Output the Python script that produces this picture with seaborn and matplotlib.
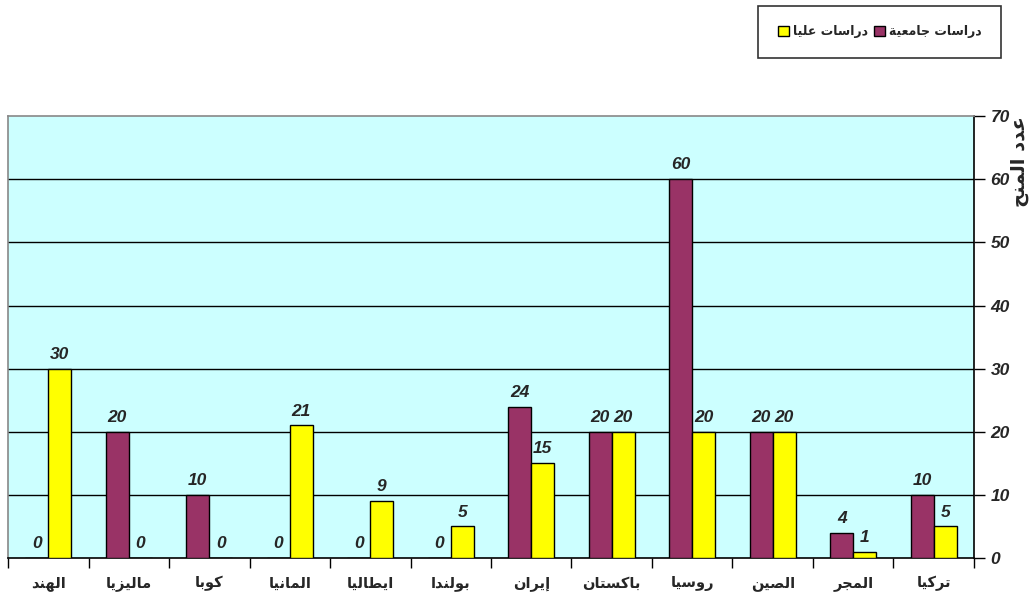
import matplotlib
matplotlib.use("Agg")
import matplotlib.pyplot as plt
from matplotlib.patches import Patch
from matplotlib.ticker import FixedLocator
import numpy as np
import pandas as pd
import seaborn as sns

# ---- data -------------------------------------------------------------
countries = ["الهند", "ماليزيا", "كوبا", "المانيا", "ايطاليا", "بولندا",
             "إيران", "باكستان", "روسيا", "الصين", "المجر", "تركيا"]
undergrad = [0, 20, 10, 0, 0, 0, 24, 20, 60, 20, 4, 10]
postgrad = [30, 0, 0, 21, 9, 5, 15, 20, 20, 20, 1, 5]
series_names = ["دراسات جامعية", "دراسات عليا"]
series_colors = ["#993366", "#FFFF00"]
y_label = "عدد المنح"
y_ticks = [0, 10, 20, 30, 40, 50, 60, 70]

# ---- minimal Arabic shaping (presentation forms, visual order) ---------
FORMS = {  # isolated, final, initial, medial
    "ا": ("\uFE8D", "\uFE8E", None, None),
    "إ": ("\uFE87", "\uFE88", None, None),
    "ب": ("\uFE8F", "\uFE90", "\uFE91", "\uFE92"),
    "ة": ("\uFE93", "\uFE94", None, None),
    "ت": ("\uFE95", "\uFE96", "\uFE97", "\uFE98"),
    "ج": ("\uFE9D", "\uFE9E", "\uFE9F", "\uFEA0"),
    "ح": ("\uFEA1", "\uFEA2", "\uFEA3", "\uFEA4"),
    "د": ("\uFEA9", "\uFEAA", None, None),
    "ر": ("\uFEAD", "\uFEAE", None, None),
    "ز": ("\uFEAF", "\uFEB0", None, None),
    "س": ("\uFEB1", "\uFEB2", "\uFEB3", "\uFEB4"),
    "ص": ("\uFEB9", "\uFEBA", "\uFEBB", "\uFEBC"),
    "ط": ("\uFEC1", "\uFEC2", "\uFEC3", "\uFEC4"),
    "ع": ("\uFEC9", "\uFECA", "\uFECB", "\uFECC"),
    "ك": ("\uFED9", "\uFEDA", "\uFEDB", "\uFEDC"),
    "ل": ("\uFEDD", "\uFEDE", "\uFEDF", "\uFEE0"),
    "م": ("\uFEE1", "\uFEE2", "\uFEE3", "\uFEE4"),
    "ن": ("\uFEE5", "\uFEE6", "\uFEE7", "\uFEE8"),
    "ه": ("\uFEE9", "\uFEEA", "\uFEEB", "\uFEEC"),
    "و": ("\uFEED", "\uFEEE", None, None),
    "ي": ("\uFEF1", "\uFEF2", "\uFEF3", "\uFEF4"),
}


def shape(text):
    out = []
    n = len(text)
    for i, ch in enumerate(text):
        if ch not in FORMS:
            out.append(ch)
            continue
        prev = text[i - 1] if i > 0 else None
        nxt = text[i + 1] if i < n - 1 else None
        joins_prev = prev in FORMS and FORMS[prev][2] is not None
        joins_next = FORMS[ch][2] is not None and nxt in FORMS
        iso, fin, ini, med = FORMS[ch]
        if joins_prev and joins_next:
            out.append(med)
        elif joins_next:
            out.append(ini)
        elif joins_prev:
            out.append(fin)
        else:
            out.append(iso)
    return "".join(out)[::-1]


# ---- figure -----------------------------------------------------------
sns.set_theme(style="white")
plt.rcParams["font.family"] = ["DejaVu Sans"]

df = pd.DataFrame({
    "country": countries * 2,
    "value": undergrad + postgrad,
    "series": [series_names[0]] * len(countries) + [series_names[1]] * len(countries),
})

fig = plt.figure(figsize=(10.30, 5.99), dpi=100)
ax = fig.add_axes([0.0078, 0.0684, 0.9378, 0.7376])
ax.set_facecolor("#CCFFFF")

sns.barplot(data=df, x="country", y="value", hue="series", order=countries,
            hue_order=series_names, palette=series_colors, width=0.57,
            edgecolor="black", linewidth=1.0, saturation=1, legend=False,
            zorder=3, ax=ax)

ax.set_ylim(0, 70)
ax.set_xlim(-0.5, len(countries) - 0.5)

# horizontal gridlines
for y in y_ticks[1:-1]:
    ax.axhline(y, color="black", linewidth=1.0, zorder=1)

# value labels
num_font = dict(family="Liberation Sans", weight="bold", style="italic", size=12.5)
for cont in ax.containers:
    for rect in cont:
        h = rect.get_height()
        ax.annotate(f"{h:g}", (rect.get_x() + rect.get_width() / 2, h),
                    xytext=(0, 5), textcoords="offset points",
                    ha="center", va="bottom", zorder=5, **num_font)

# spines
for side in ["left", "top"]:
    ax.spines[side].set_color("#888888")
    ax.spines[side].set_linewidth(1.2)
ax.spines["right"].set_color("black")
ax.spines["right"].set_linewidth(1.2)
ax.spines["bottom"].set_color("black")
ax.spines["bottom"].set_linewidth(1.2)

# y axis on the right
ax.yaxis.tick_right()
ax.set_yticks(y_ticks)
ax.set_yticklabels([str(t) for t in y_ticks], **num_font)
ax.tick_params(axis="y", which="major", right=True, left=False, length=8,
               width=1, color="black", direction="out", pad=4)
ax.set_ylabel("")

# x axis: labels under categories, ticks at category boundaries
ax.set_xticks(range(len(countries)))
ax.set_xticklabels([shape(c) for c in countries], fontsize=10.5,
                   fontweight="bold", family=["DejaVu Sans"])
ax.tick_params(axis="x", which="major", length=0, pad=13)
ax.xaxis.set_minor_locator(FixedLocator(np.arange(-0.5, len(countries), 1.0)))
ax.tick_params(axis="x", which="minor", bottom=True, length=7, width=1,
               color="black", direction="out")
ax.set_xlabel("")

# rotated axis title on the far right
fig.text(0.9895, 0.73, shape(y_label), rotation=90, ha="center", va="center",
         fontsize=14, fontweight="bold", family=["DejaVu Sans"])

# legend box
handles = [Patch(facecolor=series_colors[1], edgecolor="black", linewidth=1),
           Patch(facecolor=series_colors[0], edgecolor="black", linewidth=1)]
labels = [shape(series_names[1]), shape(series_names[0])]
leg = fig.legend(handles, labels, loc="center", bbox_to_anchor=(0.854, 0.947),
                 ncol=2, frameon=True, fancybox=False, edgecolor="black",
                 prop=dict(family="DejaVu Sans", weight="bold", size=9),
                 handlelength=0.9, handleheight=0.9, handletextpad=0.3,
                 columnspacing=0.5, borderpad=1.55, borderaxespad=0)
leg.get_frame().set_linewidth(1.2)

fig.savefig("out.png", dpi=100, facecolor="white")
